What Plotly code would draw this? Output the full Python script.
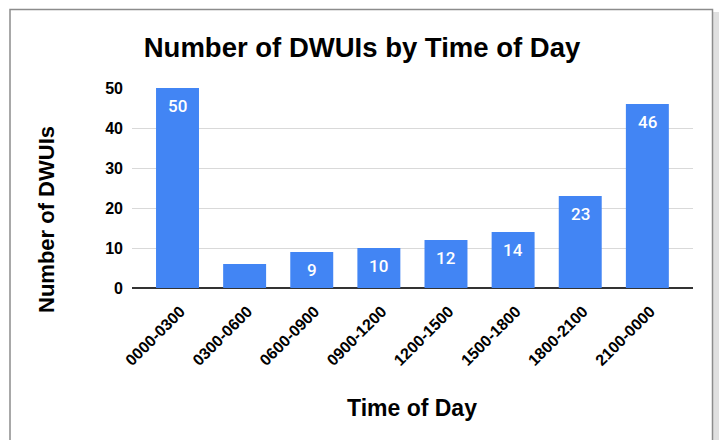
import plotly.graph_objects as go

categories = ["0000-0300", "0300-0600", "0600-0900", "0900-1200",
              "1200-1500", "1500-1800", "1800-2100", "2100-0000"]
values = [50, 6, 9, 10, 12, 14, 23, 46]
y_ticks = [0, 10, 20, 30, 40, 50]

# plot area in pixels
L, R, T, B = 132, 693, 88, 288
W, H = 720, 440
pw, ph = R - L, B - T

def px_x(px):
    return (px - L) / pw

def px_y(py):
    return (B - py) / ph

xidx = list(range(len(categories)))

fig = go.Figure()
fig.add_trace(go.Bar(
    x=xidx, y=values, width=0.64,
    marker=dict(color="#4285F4", line=dict(width=0)),
    hoverinfo="skip",
))

for i, v in zip(xidx, values):
    if v >= 8:
        fig.add_annotation(x=i, y=v, yshift=-18, text=str(v), showarrow=False,
                           font=dict(family="Roboto", size=17, color="white", weight=500),
                           xanchor="center", yanchor="middle")

# chart frame with right shadow
fig.add_shape(type="rect", xref="paper", yref="paper",
              x0=px_x(713), x1=px_x(719), y0=px_y(12), y1=px_y(460),
              line=dict(width=0), fillcolor="rgba(0,0,0,0.12)", layer="below")
fig.add_shape(type="rect", xref="paper", yref="paper",
              x0=px_x(10), x1=px_x(712.5), y0=px_y(9.5), y1=px_y(460),
              line=dict(color="#8c8c8c", width=1.5), fillcolor="white", layer="below")

fig.update_layout(
    width=W, height=H,
    margin=dict(l=L, r=W - R, t=T, b=H - B),
    paper_bgcolor="white", plot_bgcolor="rgba(0,0,0,0)",
    showlegend=False,
    font=dict(family="Liberation Sans, Arial", color="#000000"),
    title=dict(text="<b>Number of DWUIs by Time of Day</b>",
               font=dict(size=27.5, family="Liberation Sans, Arial", color="#000"),
               x=(362) / W, xanchor="center", y=1 - 47 / H, yanchor="middle"),
    xaxis=dict(
        tickmode="array", tickvals=xidx, ticktext=["<b>%s</b>" % c for c in categories],
        range=[-0.678, 7.68], tickangle=-45, showgrid=False, zeroline=False,
        ticks="", tickfont=dict(size=16, color="#000"), showline=False,
        ticklabelstandoff=10, ticklabelshift=3,
        automargin=False,
    ),
    yaxis=dict(
        range=[0, 50], tickvals=y_ticks, ticktext=["<b>%d</b>" % t for t in y_ticks],
        showgrid=True, gridcolor="#d9d9d9", gridwidth=1,
        zeroline=True, zerolinecolor="#333333", zerolinewidth=1.5,
        ticks="", ticklabelstandoff=8, tickfont=dict(size=16, color="#000"),
        automargin=False, showline=False,
    ),
)

fig.add_annotation(xref="paper", yref="paper", x=px_x(412), y=px_y(408),
                   text="<b>Time of Day</b>", showarrow=False,
                   font=dict(size=23, color="#000"), xanchor="center", yanchor="middle")
fig.add_annotation(xref="paper", yref="paper", x=px_x(47), y=px_y(220),
                   text="<b>Number of DWUIs</b>", showarrow=False, textangle=-90,
                   font=dict(size=22, color="#000"), xanchor="center", yanchor="middle")

fig.write_html("out.html", config={"displayModeBar": False},
               post_script="document.body.style.margin='0';")
